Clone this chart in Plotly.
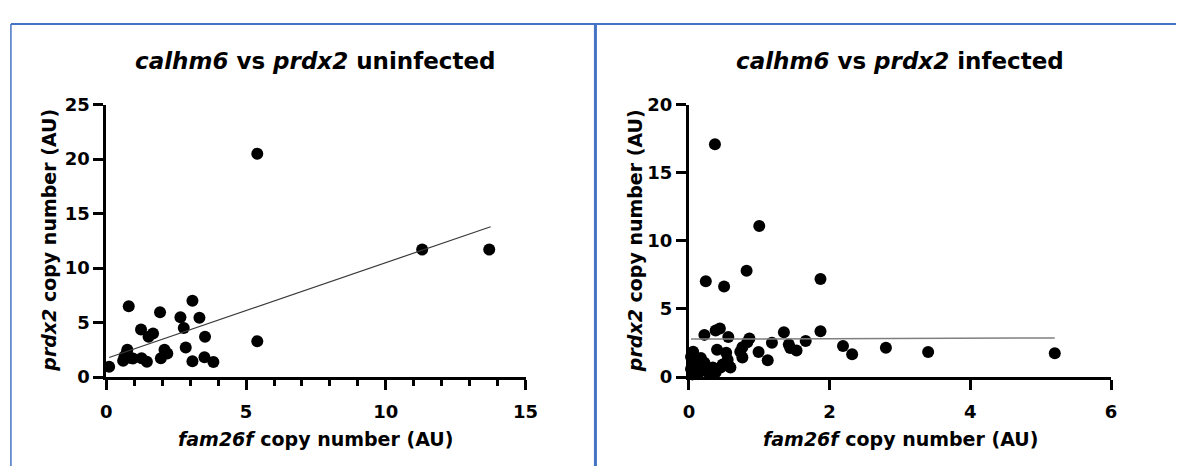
import plotly.graph_objects as go

W, H = 1189, 476

# ---- data: uninfected ----
uninf_x = [0.1, 0.6, 0.65, 0.72, 0.75, 0.8, 0.87, 0.95, 1.24, 1.26, 1.45, 1.51, 1.67,
           1.92, 1.95, 2.08, 2.18, 2.65, 2.77, 2.84, 3.08, 3.08, 3.33, 3.53, 3.51, 3.83,
           5.4, 5.4, 11.3, 13.7]
uninf_y = [0.95, 1.5, 1.9, 2.2, 2.5, 6.5, 1.75, 1.7, 4.36, 1.73, 1.4, 3.7, 4.0,
           5.96, 1.73, 2.5, 2.17, 5.5, 4.5, 2.72, 7.0, 1.46, 5.44, 3.71, 1.82, 1.38,
           20.5, 3.3, 11.7, 11.7]
uninf_fit_x = [0.1, 13.75]
uninf_fit_y = [1.8, 13.8]

# ---- data: infected ----
inf_x = [0.37, 1.0, 0.82, 0.24, 0.50, 1.87,
         0.22, 0.38, 0.44, 0.56, 0.86, 0.83, 0.76, 0.73, 0.76, 0.99, 1.12, 1.18, 1.35,
         1.42, 1.44, 1.53, 1.66, 1.87, 2.19, 2.32, 2.8, 3.4, 5.2,
         0.40, 0.53, 0.57, 0.55, 0.06, 0.06, 0.08, 0.17, 0.15, 0.22, 0.10, 0.24, 0.34,
         0.38, 0.45, 0.48, 0.59, 0.03, 0.29, 0.13, 0.03, 0.05]
inf_y = [17.1, 11.1, 7.8, 7.03, 6.65, 7.2,
         3.1, 3.42, 3.56, 2.95, 2.84, 2.56, 2.2, 1.86, 1.44, 1.84, 1.23, 2.53, 3.3,
         2.4, 2.14, 1.95, 2.65, 3.37, 2.28, 1.67, 2.15, 1.85, 1.75,
         2.0, 1.79, 0.81, 1.28, 1.86, 1.4, 0.93, 1.4, 0.81, 1.05, 0.46, 0.46, 0.70,
         0.35, 0.70, 0.93, 0.70, 1.5, 0.23, 0.23, 0.6, 0.2]
inf_fit_x = [0.03, 5.2]
inf_fit_y = [2.79, 2.87]

left_xticks = [0, 5, 10, 15]
left_yticks = [0, 5, 10, 15, 20, 25]
right_xticks = [0, 2, 4, 6]
right_yticks = [0, 5, 10, 15, 20]

titles = ["<b><i>calhm6</i> vs <i>prdx2</i> uninfected</b>",
          "<b><i>calhm6</i> vs <i>prdx2</i> infected</b>"]
xtitle = "<b><i>fam26f</i> copy number (AU)</b>"
ytitle = "<b><i>prdx2</i> copy number (AU)</b>"

fig = go.Figure()
fig.add_trace(go.Scatter(x=uninf_x, y=uninf_y, mode="markers", xaxis="x", yaxis="y",
                         marker=dict(size=12, color="black"), cliponaxis=False))
fig.add_trace(go.Scatter(x=uninf_fit_x, y=uninf_fit_y, mode="lines", xaxis="x", yaxis="y",
                         line=dict(color="#3a3a3a", width=1.2), cliponaxis=False))
fig.add_trace(go.Scatter(x=inf_x, y=inf_y, mode="markers", xaxis="x2", yaxis="y2",
                         marker=dict(size=12, color="black"), cliponaxis=False))
fig.add_trace(go.Scatter(x=inf_fit_x, y=inf_fit_y, mode="lines", xaxis="x2", yaxis="y2",
                         line=dict(color="#7f7f7f", width=1.5), cliponaxis=False))

tickfont = dict(family="DejaVu Sans, sans-serif", size=18, color="black", weight="bold")
common = dict(showline=True, linewidth=3, linecolor="black", ticks="outside", ticklen=10,
              tickwidth=2.5, tickcolor="black", showgrid=False, zeroline=False,
              tickfont=tickfont, fixedrange=True)

ydom = [93 / H, 378 / H]
fig.update_layout(
    width=W, height=H, margin=dict(l=0, r=0, t=0, b=0),
    paper_bgcolor="white", plot_bgcolor="white", showlegend=False, hovermode=False,
    xaxis=dict(domain=[102 / W, 528 / W], range=[0, 15], tickvals=left_xticks, anchor="y",
               minor=dict(dtick=1, tick0=0, ticks="outside", ticklen=6, tickwidth=2.5,
                          tickcolor="black", showgrid=False),
               ticklabelstandoff=6, **common),
    yaxis=dict(domain=ydom, range=[0, 25], tickvals=left_yticks, anchor="x", **common),
    xaxis2=dict(domain=[694 / W, 1123 / W], range=[0, 6], tickvals=right_xticks, anchor="y2",
                ticklabelstandoff=6, **common),
    yaxis2=dict(domain=ydom, range=[0, 20], tickvals=right_yticks, anchor="x2", **common),
)

tfont = dict(family="DejaVu Sans, sans-serif", size=23, color="black")
afont = dict(family="DejaVu Sans, sans-serif", size=19, color="black")
ann = []
for cx, ttl, ytx in [(315, titles[0], 44), (909, titles[1], 640)]:
    ann.append(dict(x=cx / W, y=1 - 52 / H, xref="paper", yref="paper", text=ttl,
                    showarrow=False, font=tfont, xanchor="center", yanchor="middle"))
    ann.append(dict(x=cx / W, y=1 - 448 / H, xref="paper", yref="paper", text=xtitle,
                    showarrow=False, font=afont, xanchor="center", yanchor="middle"))
    ann.append(dict(x=ytx / W, y=1 - 240 / H, xref="paper", yref="paper", text=ytitle,
                    showarrow=False, font=afont, textangle=-90, xanchor="center",
                    yanchor="middle"))
fig.update_layout(annotations=ann)

blue = "#4472C4"
shapes = [
    dict(type="line", xref="paper", yref="paper", x0=5 / W, x1=1, y0=1 - 13.5 / H, y1=1 - 13.5 / H,
         line=dict(color=blue, width=2)),
    dict(type="line", xref="paper", yref="paper", x0=5 / W, x1=5 / W, y0=0, y1=1 - 13.5 / H,
         line=dict(color=blue, width=1.5)),
    dict(type="line", xref="paper", yref="paper", x0=599 / W, x1=599 / W, y0=0, y1=1 - 13.5 / H,
         line=dict(color=blue, width=3)),
]
fig.update_layout(shapes=shapes)

fig.write_html("out.html", config={"displayModeBar": False},
               post_script="document.body.style.margin='0';"
                           "document.body.style.overflow='hidden';"
                           "document.documentElement.style.overflow='hidden';")
